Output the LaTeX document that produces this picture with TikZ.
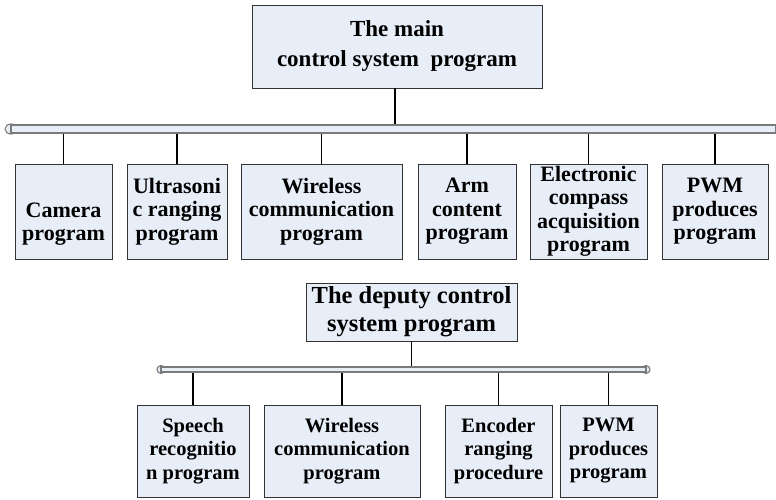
\documentclass[tikz,border=0pt]{standalone}
\usepackage{fontspec}
\setmainfont{Liberation Serif}
\definecolor{boxfill}{HTML}{E8EEF8}
\definecolor{busline}{HTML}{7A7A7A}
\begin{document}
\begin{tikzpicture}[x=1pt,y=-1pt,
  box/.style={draw=black!80, line width=0.9pt, fill=boxfill, inner sep=0pt, align=center},
  bus/.style={draw=busline, line width=1.1pt, fill=boxfill, inner sep=0pt},
  link/.style={draw=black, line width=1.3pt},
  topf/.style={font=\fontsize{22}{23.5}\selectfont\bfseries},
  botf/.style={font=\fontsize{20.5}{23.5}\selectfont\bfseries}]
\useasboundingbox (0,0) rectangle (776,500);

% main program
\node[box, minimum width=290pt, minimum height=83pt, font=\fontsize{23}{30}\selectfont\bfseries] (main) at (397,46.5) {The main\\control system~~program};

% main bus
\filldraw[bus] (11,129) ellipse [x radius=6pt, y radius=5pt];
\node[bus, minimum width=765pt, minimum height=8pt] (bus1) at (393.5,129) {};

% top row
\node[box, topf, minimum width=97pt, minimum height=95pt] (cam) at (63.5,211.5) {\strut\\Camera\\program};
\node[box, topf, minimum width=100pt, minimum height=95pt] (ult) at (177,211.5) {Ultrasoni\\c ranging\\program};
\node[box, topf, minimum width=161pt, minimum height=95pt] (wir) at (321.5,211.5) {Wireless\\communication\\program};
\node[box, topf, minimum width=98pt, minimum height=95pt] (arm) at (467,211.5) {Arm\\content\\program};
\node[box, topf, minimum width=117pt, minimum height=95pt] (ele) at (588.5,211.5) {Electronic\\compass\\acquisition\\program};
\node[box, topf, minimum width=106pt, minimum height=95pt] (pwm) at (715,211.5) {PWM\\produces\\program};

% deputy
\node[box, minimum width=211pt, minimum height=58pt, font=\fontsize{24.5}{28}\selectfont\bfseries] (dep) at (411.5,312) {The deputy control\\system program};

% deputy bus
\filldraw[bus] (161,369.5) circle [radius=4pt];
\filldraw[bus] (646,369.5) circle [radius=4pt];
\node[bus, minimum width=485pt, minimum height=5pt] (bus2) at (403.5,369.5) {};

% bottom row
\node[box, botf, minimum width=112pt, minimum height=92pt] (spe) at (193,451) {Speech\\recognitio\\n program};
\node[box, botf, minimum width=156pt, minimum height=92pt] (wir2) at (342,451) {Wireless\\communication\\program};
\node[box, botf, minimum width=107pt, minimum height=92pt] (enc) at (498.5,451) {Encoder\\ranging\\procedure};
\node[box, botf, minimum width=97pt, minimum height=92pt] (pwm2) at (608.5,451) {PWM\\produces\\program};

% connectors
\coordinate (mtap) at (395,0);
\draw[link] (main.south -| mtap) -- (bus1.north -| mtap);
\foreach \n in {cam,ult,wir,arm,ele,pwm}
  \draw[link] (bus1.south -| \n.north) -- (\n.north);
\draw[link] (dep.south) -- (bus2.north -| dep.south);
\foreach \n in {spe,wir2,enc,pwm2}
  \draw[link] (bus2.south -| \n.north) -- (\n.north);
\end{tikzpicture}
\end{document}
